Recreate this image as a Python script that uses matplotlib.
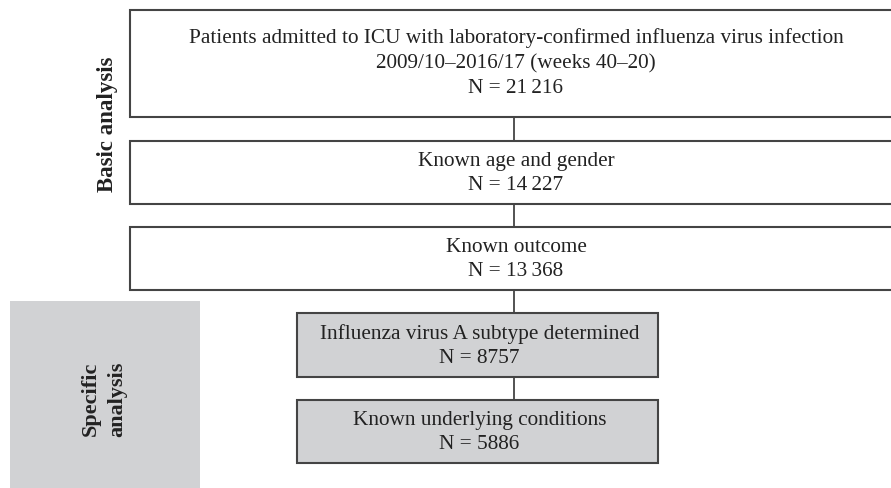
import matplotlib
matplotlib.use("Agg")
import matplotlib.pyplot as plt
from matplotlib.patches import Rectangle

# Data
stage_labels = [
    "Patients admitted to ICU with laboratory-confirmed influenza virus infection\n2009/10\u20132016/17 (weeks 40\u201320)",
    "Known age and gender",
    "Known outcome",
    "Influenza virus A subtype determined",
    "Known underlying conditions",
]
stage_counts = ["21\u2009216", "14\u2009227", "13\u2009368", "8757", "5886"]
stage_group = ["basic", "basic", "basic", "specific", "specific"]
group_labels = {"basic": "Basic analysis", "specific": "Specific\nanalysis"}

W, H = 891, 488
fig = plt.figure(figsize=(W / 100, H / 100), dpi=100)
ax = fig.add_axes([0, 0, 1, 1])
ax.set_xlim(0, W)
ax.set_ylim(H, 0)
ax.axis("off")

FONT = ["Liberation Serif", "DejaVu Serif"]
edge = "#444444"
gray = "#d1d2d4"
tcol = "#222222"

# layout (pixels): (x0, x1, y0, y1)
boxes = [
    (130, 904, 10, 117),
    (130, 904, 141, 204),
    (130, 904, 227, 290),
    (297, 658, 313, 377),
    (297, 658, 400, 463),
]
cx = 514

# Specific analysis gray panel
ax.add_patch(Rectangle((10, 301), 190, 200, facecolor=gray, edgecolor="none", zorder=1))
ax.text(104, 399, group_labels["specific"], rotation=90, ha="center", va="center",
        fontsize=16, fontweight="bold", family=FONT, color=tcol, linespacing=1.4)
ax.text(107, 124, group_labels["basic"], rotation=90, ha="center", va="center",
        fontsize=16.5, fontweight="bold", family=FONT, color=tcol)

for i, (lab, n, g) in enumerate(zip(stage_labels, stage_counts, stage_group)):
    x0, x1, y0, y1 = boxes[i]
    fc = gray if g == "specific" else "white"
    ax.add_patch(Rectangle((x0, y0), x1 - x0, y1 - y0, facecolor=fc, edgecolor=edge,
                           linewidth=1.5, zorder=2, clip_on=False))
    txt = lab + "\nN = " + n
    if i == 0:
        ty = 63
    else:
        ty = (y0 + y1) / 2 + 1
    tx = 516 if i < 3 else (x0 + x1) / 2 + 2
    ax.text(tx, ty, txt, ha="center", va="center", fontsize=15.3, family=FONT,
            color=tcol, linespacing=1.42, zorder=3)
    if i > 0:
        py1 = boxes[i - 1][3]
        ax.plot([cx, cx], [py1, y0], color=edge, linewidth=1.3, zorder=1)

fig.savefig("out.png", dpi=100)
